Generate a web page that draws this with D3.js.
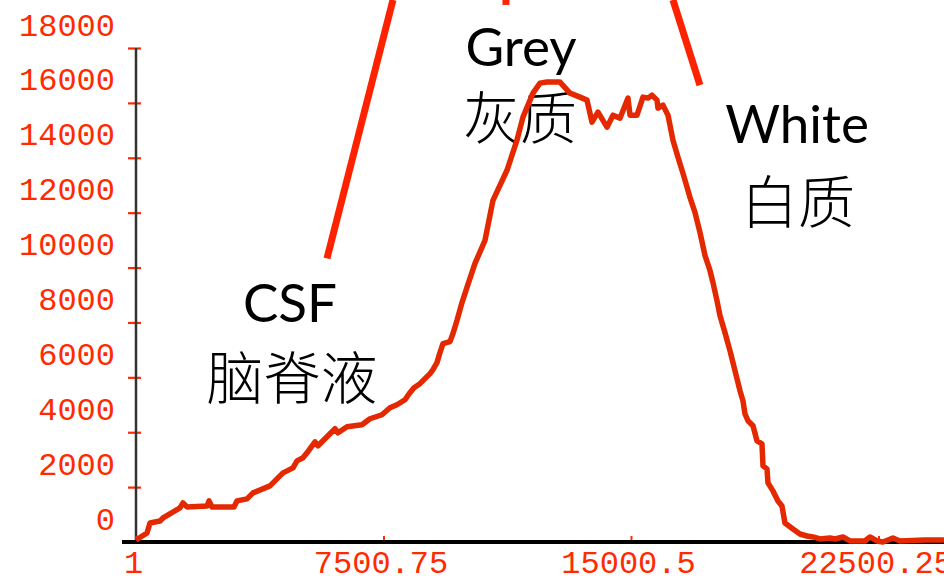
<!DOCTYPE html>
<html>
<head>
<meta charset="utf-8">
<script src="https://cdn.jsdelivr.net/npm/d3@7"></script>
<style>
  html, body { margin: 0; padding: 0; background: #fff; }
  svg { display: block; }
  .tick-label { font-family: "Liberation Mono", "DejaVu Sans Mono", monospace; font-size: 32px; fill: #ff2a00; }
  .tissue-en { font-family: "Lato", "Open Sans", sans-serif; font-size: 53px; fill: #000; }
  .tissue-zh { font-family: "Noto Sans CJK SC", sans-serif; font-size: 57px; font-weight: 300; fill: #000; }
</style>
</head>
<body>
<svg id="chart" width="944" height="576"></svg>
<script>
// Intensity histogram of a brain MR volume: voxel intensity vs voxel count.
const intensity = [
  1, 334, 425, 728, 819, 1334, 1425, 1546, 2152, 2213, 2304, 2970, 3061, 3364, 3546,
  4061, 4273, 4455, 4758, 4880, 5061, 5183, 5425, 5516, 6031, 6122, 6394, 6849, 7091,
  7455, 7697, 7909, 8152, 8303, 8425, 8606, 8910, 9000, 9121, 9212, 9303, 9515, 9606,
  9727, 9879, 10030, 10273, 10576, 10818, 11243, 11545, 11727, 12030, 12243, 12455,
  12849, 13152, 13455, 13667, 13818, 14000, 14273, 14455, 14666, 14909, 14970, 15182,
  15364, 15515, 15636, 15788, 15818, 15970, 16121, 16272, 16424, 16575, 16787, 16939,
  17090, 17242, 17393, 17484, 17605, 17696, 17848, 17999, 18151, 18302, 18393, 18454,
  18545, 18697, 18818, 18969, 19000, 19121, 19151, 19302, 19454, 19575, 19666, 19908,
  20120, 20333, 20515, 20727, 21030, 21181, 21423, 21635, 22090, 22241, 22453, 22635,
  22938, 23150, 23908, 24484
];
const voxelCount = [
  73, 329, 694, 767, 876, 1241, 1424, 1278, 1314, 1497, 1278, 1278, 1497, 1570, 1789,
  2045, 2300, 2519, 2702, 2957, 3067, 3249, 3651, 3505, 4126, 3980, 4199, 4272, 4491,
  4637, 4892, 5002, 5184, 5440, 5623, 5769, 6134, 6280, 6535, 6900, 7229, 7302, 7594,
  8069, 8726, 9274, 10150, 10990, 12450, 13545, 14640, 15480, 16356, 16721, 16758,
  16758, 16356, 16210, 16101, 15297, 15663, 15115, 15553, 15444, 16174, 15553, 15553,
  16210, 16174, 16283, 16101, 15809, 15918, 15553, 14640, 14020, 13436, 12559, 12012,
  11282, 10442, 9894, 9456, 8799, 8251, 7630, 6973, 6243, 5513, 5148, 4673,
  4418, 4235, 3688, 3578, 2775, 2665, 2154, 1862, 1497, 1314, 694, 475,
  292, 219, 183, 110, 146, 110, 183, 37, 37, 183, 37, 0,
  146, 37, 73, 73
];

// Axis ticks
const yTicks = [0, 2000, 4000, 6000, 8000, 10000, 12000, 14000, 16000, 18000];
const xTicks = [1, 7500.75, 15000.5, 22500.25];

// Threshold dividers between tissue classes: [intensity, count] endpoints
const dividerCsfGrey = [[5788, 10332], [7788, 19752]];
const dividerGreyMark = [[11212, 19570], [11212, 20300]];
const dividerGreyWhite = [[16272, 19752], [17090, 16649]];

// Tissue class labels: [intensity, count] anchors
const tissueNames = ["CSF", "Grey", "White"];
const tissueNamesZh = ["脑脊液", "灰质", "白质"];
const tissueEnPos = [[4668, 8017], [11668, 17346], [20031, 14540]];
const tissueZhPos = [[4728, 5211], [11637, 14686], [20061, 11625]];

const svg = d3.select("#chart");

const x = d3.scaleLinear().domain([1, 15000.5]).range([136, 631]);
const y = d3.scaleLinear().domain([0, 18000]).range([542, 48]);

// Y axis
const yAxis = svg.append("g").attr("transform", `translate(${x(1)},0)`)
  .call(d3.axisLeft(y).tickValues(yTicks).tickSize(0).tickPadding(21).tickFormat(d3.format("d")));
yAxis.select(".domain").remove();
yAxis.attr("font-family", null).attr("font-size", null);
yAxis.selectAll(".tick text")
  .attr("class", "tick-label")
  .attr("dy", "-13");
yAxis.selectAll(".tick").append("line")
  .attr("x1", -8).attr("x2", 5)
  .attr("stroke", "#ff2a00").attr("stroke-width", 2.2);
yAxis.append("line")
  .attr("y1", y(18000)).attr("y2", y(0))
  .attr("stroke", "#333").attr("stroke-width", 2.5);

// X axis
const xAxis = svg.append("g").attr("transform", `translate(0,${y(0)})`)
  .call(d3.axisBottom(x).tickValues(xTicks).tickSize(0).tickFormat(d => String(d)));
xAxis.select(".domain").remove();
xAxis.attr("font-family", null).attr("font-size", null);
xAxis.selectAll(".tick text")
  .attr("class", "tick-label")
  .attr("y", 31).attr("dy", 0).attr("dx", -3);
xAxis.selectAll(".tick").append("line")
  .attr("y1", -6).attr("y2", 0)
  .attr("stroke", "#ff2a00").attr("stroke-width", 2);
xAxis.append("line")
  .attr("x1", 122).attr("x2", 944)
  .attr("stroke", "#000").attr("stroke-width", 4);

// Labels for tissue classes
const labels = svg.append("g");
labels.selectAll("text.tissue-en").data(tissueNames).join("text")
  .attr("class", "tissue-en")
  .attr("text-anchor", "middle")
  .attr("x", (d, i) => x(tissueEnPos[i][0]))
  .attr("y", (d, i) => y(tissueEnPos[i][1]))
  .text(d => d);
labels.selectAll("text.tissue-zh").data(tissueNamesZh).join("text")
  .attr("class", "tissue-zh")
  .attr("text-anchor", "middle")
  .attr("x", (d, i) => x(tissueZhPos[i][0]))
  .attr("y", (d, i) => y(tissueZhPos[i][1]))
  .text(d => d);

// Histogram curve
const hist = intensity.map((v, i) => [v, voxelCount[i]]);
svg.append("path")
  .datum(hist)
  .attr("fill", "none")
  .attr("stroke", "#e42800")
  .attr("stroke-width", 5.5)
  .attr("stroke-linejoin", "round")
  .attr("d", d3.line().x(d => x(d[0])).y(d => y(d[1])));

// Threshold dividers
const seg = d3.line().x(d => x(d[0])).y(d => y(d[1]));
[dividerCsfGrey, dividerGreyMark, dividerGreyWhite].forEach(d => {
  svg.append("path")
    .attr("d", seg(d))
    .attr("fill", "none")
    .attr("stroke", "#ff2200")
    .attr("stroke-width", 7);
});
</script>
</body>
</html>
